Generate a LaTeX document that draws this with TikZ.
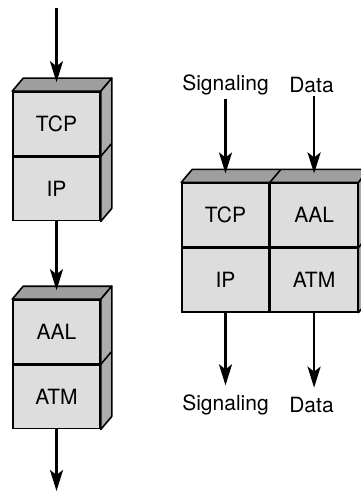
\documentclass[tikz,border=0pt]{standalone}
\usepackage{fontspec}
\setmainfont{TeX Gyre Heros}
\usetikzlibrary{arrows.meta,positioning,calc}
\definecolor{frontgray}{RGB}{221,221,221}
\definecolor{topgray}{RGB}{158,158,158}
\definecolor{sidegray}{RGB}{172,172,172}
\tikzset{
  layer/.style={draw, line width=1.6pt, fill=frontgray, minimum width=87pt,
    minimum height=63.5pt, inner sep=0pt, font=\fontsize{21}{25}\selectfont},
  face/.style={draw, line width=1.6pt, line join=round},
  flow/.style={-{Stealth[length=21pt,width=13pt,inset=5pt]}, line width=2.4pt},
  tag/.style={font=\fontsize{21}{25}\selectfont}
}

\begin{document}
\begin{tikzpicture}[x=1pt, y=-1pt]
    \useasboundingbox (0,0) rectangle (360,494);

    % 左侧上方协议栈
    \node[layer] (tcpA) at (56.5,123.75) {TCP};
    \node[layer, below=0pt of tcpA] (ipA) {IP};
    \filldraw[face, fill=topgray] (tcpA.north west) -- ++(11,-13)
        -- ($(tcpA.north east)+(11,-13)$) -- (tcpA.north east) -- cycle;
    \filldraw[face, fill=sidegray] (tcpA.north east) -- ++(11,-13)
        -- ($(ipA.south east)+(11,-13)$) -- (ipA.south east) -- cycle;
    \draw[face] (tcpA.south east) -- ++(11,-13);

    % 左侧下方协议栈
    \node[layer] (aalA) at (56.5,331.75) {AAL};
    \node[layer, below=0pt of aalA] (atmA) {ATM};
    \filldraw[face, fill=topgray] (aalA.north west) -- ++(11,-13)
        -- ($(aalA.north east)+(11,-13)$) -- (aalA.north east) -- cycle;
    \filldraw[face, fill=sidegray] (aalA.north east) -- ++(11,-13)
        -- ($(atmA.south east)+(11,-13)$) -- (atmA.south east) -- cycle;
    \draw[face] (aalA.south east) -- ++(11,-13);

    % 右侧并列协议栈
    \node[layer] (tcpB) at (225.5,215) {TCP};
    \node[layer, below=0pt of tcpB] (ipB) {IP};
    \node[layer, right=0pt of tcpB] (aalB) {AAL};
    \node[layer, below=0pt of aalB] (atmB) {ATM};
    \filldraw[face, fill=topgray] (tcpB.north west) -- ++(11,-13)
        -- ($(aalB.north east)+(11,-13)$) -- (aalB.north east) -- cycle;
    \draw[face] (tcpB.north east) -- ++(11,-13);
    \filldraw[face, fill=sidegray] (aalB.north east) -- ++(11,-13)
        -- ($(atmB.south east)+(11,-13)$) -- (atmB.south east) -- cycle;
    \draw[face] (aalB.south east) -- ++(11,-13);

    % 标注
    \node[tag] (sigIn) at (225.5,85) {Signaling};
    \node[tag] (dataIn) at (311.5,85) {Data};
    \node[tag] (sigOut) at (225.5,405) {Signaling};
    \node[tag] (dataOut) at (311.5,405) {Data};
    \coordinate (inA) at (56.5,8);
    \coordinate (outA) at (56.5,491);
    \coordinate (dataTip) at ([yshift=6pt]dataOut.north);

    % 箭头
    \draw[flow] (inA) -- ([yshift=9pt]tcpA.north);
    \draw[flow] (ipA.south) -- ([yshift=9pt]aalA.north);
    \draw[flow] (atmA.south) -- (outA);
    \draw[flow] (sigIn.south) -- ([yshift=9pt]tcpB.north);
    \draw[flow] (aalB.north |- dataIn.south) -- ([yshift=9pt]aalB.north);
    \draw[flow] (ipB.south) -- ([yshift=6pt]sigOut.north);
    \draw[flow] (atmB.south) -- (atmB.south |- dataTip);
\end{tikzpicture}
\end{document}
